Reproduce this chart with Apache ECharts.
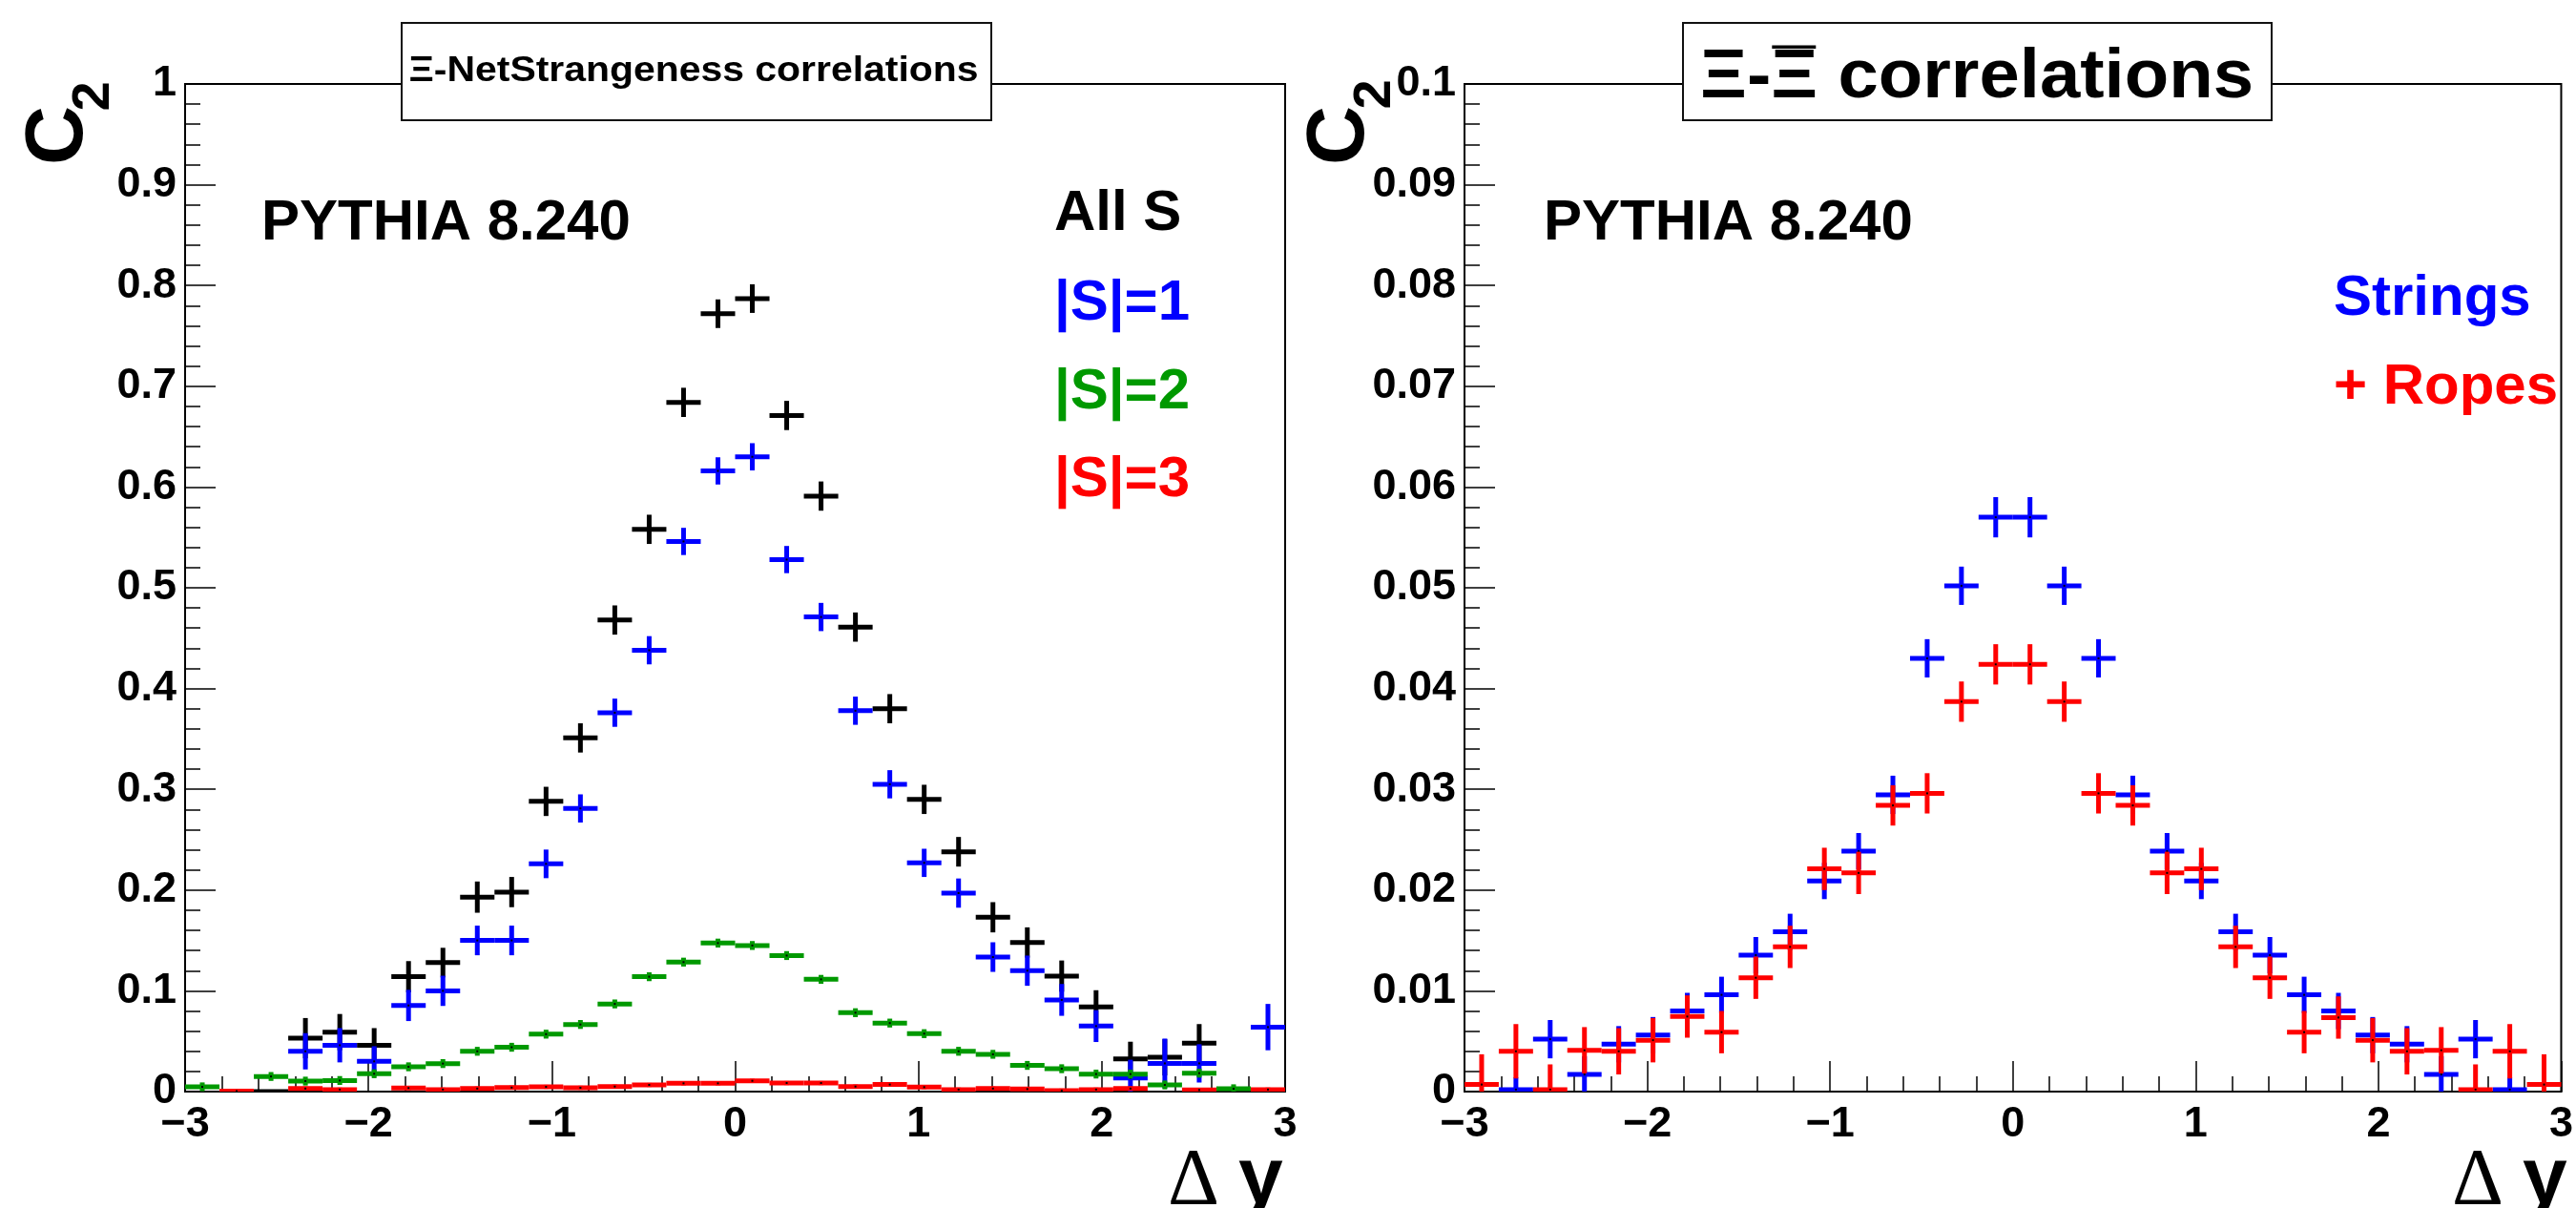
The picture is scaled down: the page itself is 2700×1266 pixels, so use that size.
<!DOCTYPE html>
<html>
<head>
<meta charset="utf-8">
<script src="https://cdn.jsdelivr.net/npm/echarts@6/dist/echarts.min.js"></script>
<style>
  html, body { margin: 0; padding: 0; background: #fff; }
  #chart { width: 2700px; height: 1266px; }
</style>
</head>
<body>
<div id="chart"></div>
<script>
// Histogram binning in Δy: 32 bins on [-3, 3]
const binCenters = [
  -2.90625, -2.71875, -2.53125, -2.34375, -2.15625, -1.96875, -1.78125, -1.59375,
  -1.40625, -1.21875, -1.03125, -0.84375, -0.65625, -0.46875, -0.28125, -0.09375,
   0.09375,  0.28125,  0.46875,  0.65625,  0.84375,  1.03125,  1.21875,  1.40625,
   1.59375,  1.78125,  1.96875,  2.15625,  2.34375,  2.53125,  2.71875,  2.90625
];
const binWidth = 0.1875;

// Ξ–net strangeness C2 (null = empty bin)
const allS = [null, null, 0, 0.053, 0.059, 0.046, 0.114, 0.128, 0.193, 0.198, 0.288, 0.351, 0.468, 0.558, 0.684, 0.772,
              0.787, 0.671, 0.591, 0.461, 0.380, 0.290, 0.238, 0.173, 0.148, 0.1146, 0.084, 0.0325, 0.034, 0.048, null, null];
const allSErr = [null, null, 0, 0.020, 0.018, 0.017, 0.0155, 0.0147, 0.0155, 0.015, 0.0145, 0.0145, 0.0145, 0.0145, 0.0145, 0.0142,
                 0.0142, 0.0145, 0.0145, 0.0145, 0.0145, 0.0145, 0.0147, 0.015, 0.015, 0.0155, 0.0166, 0.017, 0.018, 0.019, null, null];

const s1 = [null, null, null, 0.040, 0.046, 0.030, 0.0855, 0.100, 0.150, 0.150, 0.226, 0.281, 0.376, 0.438, 0.546, 0.616,
            0.630, 0.528, 0.471, 0.378, 0.305, 0.227, 0.197, 0.1335, 0.120, 0.091, 0.065, 0.0136, 0.028, 0.028, null, 0.064];
const s1Err = [null, null, null, 0.018, 0.017, 0.015, 0.0155, 0.015, 0.0147, 0.0147, 0.0142, 0.014, 0.014, 0.014, 0.0135, 0.0135,
               0.0135, 0.0135, 0.014, 0.014, 0.014, 0.014, 0.0145, 0.0147, 0.015, 0.0158, 0.0158, 0.018, 0.0246, 0.019, null, 0.023];

const s2 = [0.0047, null, 0.015, 0.0104, 0.011, 0.0177, 0.0246, 0.0278, 0.040, 0.044, 0.057, 0.0666, 0.087, 0.114, 0.1285, 0.1474,
            0.145, 0.135, 0.1114, 0.0783, 0.068, 0.0575, 0.040, 0.037, 0.026, 0.0227, 0.0174, 0.0174, 0.0066, 0.0183, 0.0028, null];
const s2Err = [0.0044, null, 0.0044, 0.0044, 0.0044, 0.0044, 0.0044, 0.0044, 0.0044, 0.0044, 0.0044, 0.0044, 0.0044, 0.0044, 0.0044, 0.0044,
               0.0044, 0.0044, 0.0044, 0.0044, 0.0044, 0.0044, 0.0044, 0.0044, 0.0044, 0.0044, 0.0044, 0.0044, 0.0044, 0.0044, 0.0044, null];

const s3 = [null, 0.0005, null, 0.003, 0.002, null, 0.0035, 0.002, 0.003, 0.004, 0.0047, 0.0038, 0.005, 0.0066, 0.0082, 0.0082,
            0.0107, 0.0085, 0.0085, 0.005, 0.007, 0.0044, 0.002, 0.003, 0.0025, 0.001, 0.002, 0.003, null, 0.0016, null, 0.002];
const s3Err = [null, 0.002, null, 0.002, 0.002, null, 0.002, 0.002, 0.002, 0.002, 0.002, 0.002, 0.002, 0.002, 0.002, 0.002,
               0.002, 0.002, 0.002, 0.002, 0.002, 0.002, 0.002, 0.002, 0.002, 0.002, 0.002, 0.002, null, 0.002, null, 0.002];

// Ξ–anti-Ξ C2
const strings = [null, 0.0002, 0.0052, 0.0017, 0.0047, 0.0056, 0.0080, 0.0096, 0.01354, 0.01585, 0.0209, 0.02386, 0.02945, 0.0430, 0.0502, 0.0570,
                 0.0570, 0.0502, 0.0430, 0.02945, 0.02386, 0.0209, 0.01585, 0.01354, 0.0096, 0.0080, 0.0056, 0.0047, 0.0017, 0.0052, 0.0002, null];
const stringsErr = [null, 0.0012, 0.0019, 0.0018, 0.0018, 0.0018, 0.0018, 0.0018, 0.0018, 0.0018, 0.0018, 0.0018, 0.0019, 0.0019, 0.0019, 0.002,
                    0.002, 0.0019, 0.0019, 0.0019, 0.0018, 0.0018, 0.0018, 0.0018, 0.0018, 0.0018, 0.0018, 0.0018, 0.0018, 0.0019, 0.0012, null];

const ropes = [0.0007, 0.0040, 0.0002, 0.0041, 0.0040, 0.0051, 0.00745, 0.0059, 0.0113, 0.01436, 0.0221, 0.0217, 0.0284, 0.0296, 0.0387, 0.0424,
               0.0424, 0.0387, 0.0296, 0.0284, 0.0217, 0.0221, 0.01436, 0.0113, 0.0059, 0.00735, 0.0051, 0.0040, 0.0041, 0.0002, 0.0040, 0.0007];
const ropesErr = [0.003, 0.0027, 0.0025, 0.0023, 0.0023, 0.0022, 0.0021, 0.0021, 0.0021, 0.0021, 0.0021, 0.0021, 0.002, 0.002, 0.002, 0.002,
                  0.002, 0.002, 0.002, 0.002, 0.0021, 0.0021, 0.0021, 0.0021, 0.0021, 0.0021, 0.0022, 0.0023, 0.0023, 0.0025, 0.0027, 0.003];

const SANS = '"Liberation Sans", Arial, Helvetica, sans-serif';
const SERIF = '"Liberation Serif", "Times New Roman", serif';
const BLACK = '#000000', BLUE = '#0000ff', GREEN = '#009900', RED = '#ff0000';

const measureCtx = document.createElement('canvas').getContext('2d');
function textWidth(text, size) {
  measureCtx.font = 'bold ' + size + 'px ' + SANS;
  return measureCtx.measureText(text).width;
}

function xAxisFor(gridIndex) {
  return {
    type: 'value', gridIndex: gridIndex, min: -3, max: 3, interval: 1,
    axisLine: { show: true, onZero: false, lineStyle: { color: '#000', width: 2 } },
    axisTick: { show: true, inside: true, length: 32, lineStyle: { color: '#000', width: 1.5 } },
    minorTick: { show: true, splitNumber: 5, length: 16, lineStyle: { color: '#000', width: 1.5 } },
    axisLabel: {
      margin: 12, fontFamily: SANS, fontWeight: 'bold', fontSize: 45, color: '#000',
      formatter: function (v) { return String(v).replace('-', '\u2212'); }
    },
    splitLine: { show: false }
  };
}

function yAxisFor(gridIndex, max) {
  return {
    type: 'value', gridIndex: gridIndex, min: 0, max: max, interval: max / 10,
    axisLine: { show: true, onZero: false, lineStyle: { color: '#000', width: 2 } },
    axisTick: { show: true, inside: true, length: 32, lineStyle: { color: '#000', width: 1.5 } },
    minorTick: { show: true, splitNumber: 5, length: 16, lineStyle: { color: '#000', width: 1.5 } },
    axisLabel: { margin: 9, fontFamily: SANS, fontWeight: 'bold', fontSize: 45, color: '#000' },
    splitLine: { show: false }
  };
}

// Histogram points drawn as error crosses: horizontal bar = bin width, vertical bar = ±error
function crossSeries(name, color, axisIndex, values, errors, z) {
  const data = [];
  values.forEach(function (v, i) {
    if (v !== null) data.push([binCenters[i], v, errors[i]]);
  });
  return {
    type: 'custom', name: name, xAxisIndex: axisIndex, yAxisIndex: axisIndex,
    clip: true, silent: true, z: z, data: data,
    renderItem: function (params, api) {
      const x = api.value(0), y = api.value(1), e = api.value(2);
      const c = api.coord([x, y]);
      const top = api.coord([x, y + e])[1];
      const bot = api.coord([x, y - e])[1];
      const hw = api.size([binWidth, 0])[0] / 2;
      return {
        type: 'group',
        children: [
          { type: 'line', shape: { x1: c[0] - hw, y1: c[1], x2: c[0] + hw, y2: c[1] }, style: { stroke: color, lineWidth: 5 } },
          { type: 'line', shape: { x1: c[0], y1: top, x2: c[0], y2: bot }, style: { stroke: color, lineWidth: 5 } },
          { type: 'rect', shape: { x: c[0] - 1, y: c[1] - 1, width: 2, height: 2 }, style: { fill: '#000' } }
        ]
      };
    }
  };
}

function label(text, x, y, size, color, align, extra) {
  return Object.assign({
    type: 'text', x: x, y: y, z: 200,
    style: { text: text, fontFamily: SANS, fontWeight: 'bold', fontSize: size, fill: color,
             align: align || 'left', verticalAlign: 'middle' }
  }, extra || {});
}

function rotated(text, x, y, size) {
  return {
    type: 'text', x: x, y: y, rotation: Math.PI / 2, z: 200,
    style: { text: text, fontFamily: SANS, fontWeight: 'bold', fontSize: size, fill: '#000',
             align: 'center', verticalAlign: 'middle' }
  };
}

// Pad titles: widen the bold face a little to the ROOT Helvetica proportions
const leftTitle = '\u039E-NetStrangeness correlations';
const leftTitleSize = 36;
const leftTitleScale = 597 / textWidth(leftTitle, leftTitleSize);

const rightTitle = '\u039E-\u039E correlations';
const rightTitleSize = 72;
const rightTitleX = 1782;
const rightTitleScale = 580 / textWidth(rightTitle, rightTitleSize);
const barX = rightTitleX + textWidth('\u039E-', rightTitleSize) * rightTitleScale + 1;
const barW = textWidth('\u039E', rightTitleSize) * rightTitleScale - 3;

const chart = echarts.init(document.getElementById('chart'), null, { renderer: 'canvas' });

chart.setOption({
  animation: false,
  backgroundColor: '#ffffff',
  grid: [
    { left: 194, top: 88, width: 1153, height: 1056, show: true, borderColor: '#000', borderWidth: 2, backgroundColor: 'transparent' },
    { left: 1535, top: 88, width: 1155, height: 1056, show: true, borderColor: '#000', borderWidth: 2, backgroundColor: 'transparent' }
  ],
  xAxis: [xAxisFor(0), xAxisFor(1)],
  yAxis: [yAxisFor(0, 1), yAxisFor(1, 0.1)],
  series: [
    crossSeries('All S', BLACK, 0, allS, allSErr, 10),
    crossSeries('|S|=1', BLUE, 0, s1, s1Err, 11),
    crossSeries('|S|=2', GREEN, 0, s2, s2Err, 12),
    crossSeries('|S|=3', RED, 0, s3, s3Err, 13),
    crossSeries('Strings', BLUE, 1, strings, stringsErr, 10),
    crossSeries('+ Ropes', RED, 1, ropes, ropesErr, 11)
  ],
  graphic: [
    // title boxes
    { type: 'rect', z: 150, shape: { x: 421, y: 24, width: 618, height: 102 },
      style: { fill: '#fff', stroke: '#111', lineWidth: 2 } },
    label(leftTitle, 727, 75, leftTitleSize, '#000', 'center', { scaleX: leftTitleScale }),
    { type: 'rect', z: 150, shape: { x: 1764, y: 24, width: 617, height: 102 },
      style: { fill: '#fff', stroke: '#111', lineWidth: 2 } },
    label(rightTitle, rightTitleX, 82, rightTitleSize, '#000', 'left', { scaleX: rightTitleScale }),
    { type: 'rect', z: 210, shape: { x: barX, y: 47.5, width: barW, height: 3.5 }, style: { fill: '#000' } },

    // annotations
    label('PYTHIA 8.240', 274, 234, 60, '#000'),
    label('All S', 1105, 224, 60, BLACK),
    label('|S|=1', 1105, 318, 60, BLUE),
    label('|S|=2', 1105, 411, 60, GREEN),
    label('|S|=3', 1105, 503, 60, RED),
    label('PYTHIA 8.240', 1618, 234, 60, '#000'),
    label('Strings', 2446, 313, 60, BLUE),
    label('+ Ropes', 2446, 406, 60, RED),

    // y-axis titles C_2
    rotated('C', 62, 142, 86),
    rotated('2', 99, 101, 56),
    rotated('C', 1405, 142, 86),
    rotated('2', 1442, 99, 56),

    // x-axis titles Δy
    { type: 'text', x: 1224, y: 1240, z: 200,
      style: { text: '\u0394', fontFamily: SERIF, fontSize: 84, fill: '#000', align: 'left', verticalAlign: 'middle' } },
    label('y', 1298, 1238, 84, '#000'),
    { type: 'text', x: 2570, y: 1240, z: 200,
      style: { text: '\u0394', fontFamily: SERIF, fontSize: 84, fill: '#000', align: 'left', verticalAlign: 'middle' } },
    label('y', 2644, 1238, 84, '#000')
  ]
});
</script>
</body>
</html>
